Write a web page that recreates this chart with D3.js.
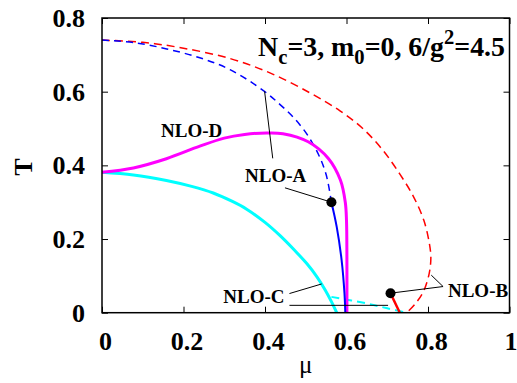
<!DOCTYPE html>
<html>
<head>
<meta charset="utf-8">
<script src="https://cdn.jsdelivr.net/npm/d3@7"></script>
<style>
  body { margin: 0; background: #fff; }
  svg { display: block; }
</style>
</head>
<body>
<div id="chart"></div>
<script>
// points as [mu, T]
var redDashed = [[0, 0.74], [0.1, 0.734], [0.2, 0.718], [0.314, 0.69], [0.412, 0.651], [0.51, 0.597],
                 [0.584, 0.548], [0.64, 0.5], [0.69, 0.44], [0.731, 0.376], [0.764, 0.316], [0.79, 0.25],
                 [0.803, 0.19], [0.807, 0.15], [0.803, 0.107], [0.789, 0.058], [0.768, 0.023], [0.748, 0]];
var redSolid = [[0.708, 0.053], [0.72, 0.025], [0.731, 0]];
var blueDashed = [[0, 0.74], [0.08, 0.733], [0.159, 0.716], [0.24, 0.692], [0.314, 0.66], [0.396, 0.603],
                  [0.437, 0.565], [0.47, 0.53], [0.502, 0.486], [0.531, 0.43], [0.55, 0.375], [0.563, 0.30]];
var blueSolid = [[0.563, 0.30], [0.576, 0.233], [0.588, 0.143], [0.595, 0.053], [0.597, 0]];
var magentaSolid = [[0, 0.381], [0.077, 0.393], [0.158, 0.418], [0.24, 0.452], [0.3, 0.474], [0.35, 0.484],
                    [0.404, 0.488], [0.444, 0.486], [0.506, 0.464], [0.556, 0.418], [0.585, 0.36],
                    [0.597, 0.30], [0.6, 0.25], [0.601, 0.15], [0.601, 0]];
var cyanSolid = [[0, 0.381], [0.077, 0.374], [0.158, 0.359], [0.22, 0.343], [0.273, 0.325], [0.32, 0.302],
                 [0.355, 0.281], [0.4, 0.245], [0.437, 0.209], [0.472, 0.17], [0.502, 0.134],
                 [0.527, 0.098], [0.548, 0.061], [0.563, 0.03], [0.576, 0]];
var cyanDashed = [[0.563, 0.043], [0.65, 0.025], [0.70, 0.012], [0.748, 0]];
var endPoints = [[0.563, 0.30], [0.708, 0.053]];

var xTicks = [0, 0.2, 0.4, 0.6, 0.8, 1];
var yTicks = [0, 0.2, 0.4, 0.6, 0.8];

// labels and their leader lines, also in data units
var labels = [
  { text: "NLO-D", mu: 0.145, t: 0.478, anchor: "start" },
  { text: "NLO-A", mu: 0.351, t: 0.355, anchor: "start" },
  { text: "NLO-C", mu: 0.448, t: 0.025, anchor: "end" },
  { text: "NLO-B", mu: 0.849, t: 0.043, anchor: "start" }
];
var leaders = [
  [[0.419, 0.419], [0.399, 0.601]],
  [[0.449, 0.339], [0.563, 0.30]],
  [[0.46, 0.052], [0.539, 0.078]],
  [[0.46, 0.02], [0.702, 0.02]],
  [[0.837, 0.071], [0.808, 0.102]],
  [[0.837, 0.071], [0.708, 0.053]]
];

var w = 517, h = 383;
var mLeft = 102, mRight = 509.5, mTop = 18, mBottom = 312.7;
var serif = "'Liberation Serif', 'Times New Roman', serif";

var svg = d3.select("#chart").append("svg")
  .attr("width", w)
  .attr("height", h);

var x = d3.scaleLinear().domain([0, 1]).range([mLeft, mRight]);
var y = d3.scaleLinear().domain([0, 0.8]).range([mBottom, mTop]);

var line = d3.line()
  .x(function(d) { return x(d[0]); })
  .y(function(d) { return y(d[1]); })
  .curve(d3.curveCatmullRom.alpha(0.5));

function curve(data, color, width, dash) {
  svg.append("path")
    .datum(data)
    .attr("d", line)
    .attr("fill", "none")
    .attr("stroke", color)
    .attr("stroke-width", width)
    .attr("stroke-dasharray", dash || null);
}

// axes, ticks point inward
var xAxis = d3.axisBottom(x).tickValues(xTicks).tickSize(-6).tickPadding(19)
  .tickFormat(function(d) { return d === 0 || d === 1 ? d : d.toFixed(1); });
var xTop = d3.axisTop(x).tickValues(xTicks).tickSize(-6).tickFormat("");
var yAxis = d3.axisLeft(y).tickValues(yTicks).tickSize(-6).tickPadding(17)
  .tickFormat(function(d) { return d === 0 ? "0" : d.toFixed(1); });
var yRight = d3.axisRight(y).tickValues(yTicks).tickSize(-6).tickFormat("");

function styleAxis(g) {
  g.select(".domain").remove();
  g.selectAll("line").attr("stroke", "#000").attr("stroke-width", 1);
  g.selectAll("text").attr("fill", "#000")
    .style("font-family", serif).style("font-size", "26px").style("font-weight", "bold");
}

svg.append("g").attr("transform", "translate(0," + mBottom + ")").call(xAxis).call(styleAxis)
  .selectAll("text").attr("dx", function(d) { return d === 1 ? 1 : 3; });
svg.append("g").attr("transform", "translate(0," + mTop + ")").call(xTop).call(styleAxis);
svg.append("g").attr("transform", "translate(" + mLeft + ",0)").call(yAxis).call(styleAxis);
svg.append("g").attr("transform", "translate(" + mRight + ",0)").call(yRight).call(styleAxis);

// curves
curve(redDashed, "#ff0000", 1.5, "8,5");
curve(blueDashed, "#0000ff", 1.5, "7,5");
curve(cyanSolid, "#00ffff", 3);
curve(cyanDashed, "#00ffff", 2, "8,5");
curve(magentaSolid, "#ff00ff", 3);
curve(blueSolid, "#0000ff", 2);
curve(redSolid, "#ff0000", 2.5);

// leader lines
svg.selectAll(".leader")
  .data(leaders)
  .enter()
  .append("line")
  .attr("class", "leader")
  .attr("x1", function(d) { return x(d[0][0]); })
  .attr("y1", function(d) { return y(d[0][1]); })
  .attr("x2", function(d) { return x(d[1][0]); })
  .attr("y2", function(d) { return y(d[1][1]); })
  .attr("stroke", "#000")
  .attr("stroke-width", 1);

svg.selectAll(".pt")
  .data(endPoints)
  .enter()
  .append("circle")
  .attr("class", "pt")
  .attr("cx", function(d) { return x(d[0]); })
  .attr("cy", function(d) { return y(d[1]); })
  .attr("r", 5)
  .attr("fill", "#000");

svg.selectAll(".lbl")
  .data(labels)
  .enter()
  .append("text")
  .attr("class", "lbl")
  .attr("x", function(d) { return x(d.mu); })
  .attr("y", function(d) { return y(d.t); })
  .attr("text-anchor", function(d) { return d.anchor; })
  .style("font-family", serif)
  .style("font-size", "19px")
  .style("font-weight", "bold")
  .text(function(d) { return d.text; });

// frame
svg.append("rect")
  .attr("x", mLeft)
  .attr("y", mTop)
  .attr("width", mRight - mLeft)
  .attr("height", mBottom - mTop)
  .attr("fill", "none")
  .attr("stroke", "#000")
  .attr("stroke-width", 1.5);

// title with sub/superscripts, sized so it runs from x=258 to x=505 like the original
var titleSize = 27, subSize = 20;
var title = svg.append("text")
  .attr("x", 505)
  .attr("y", 56)
  .attr("text-anchor", "end")
  .style("font-family", serif)
  .style("font-weight", "bold");
var parts = [
  { t: "N", sub: 0 }, { t: "c", sub: 1 }, { t: "=3, m", sub: 0 }, { t: "0", sub: 1 },
  { t: "=0, 6/g", sub: 0 }, { t: "2", sub: -1 }, { t: "=4.5", sub: 0 }
];
function drawTitle(k) {
  title.selectAll("tspan").remove();
  var shift = 0;
  parts.forEach(function(p) {
    var target = p.sub === 1 ? 8 * k : (p.sub === -1 ? -12 * k : 0);
    title.append("tspan")
      .style("font-size", (p.sub ? subSize : titleSize) * k + "px")
      .attr("dy", target - shift)
      .text(p.t);
    shift = target;
  });
}
drawTitle(1);
var tw = title.node().getBBox().width;
if (tw > 0) drawTitle(Math.min(1.15, Math.max(0.85, 247 / tw)));

// axis titles
svg.append("text")
  .attr("x", (mLeft + mRight) / 2)
  .attr("y", 373)
  .attr("text-anchor", "middle")
  .style("font-family", serif)
  .style("font-size", "25px")
  .text("\u03bc");

svg.append("text")
  .attr("transform", "translate(32,167) rotate(-90)")
  .attr("text-anchor", "middle")
  .style("font-family", serif)
  .style("font-size", "26px")
  .style("font-weight", "bold")
  .text("T");
</script>
</body>
</html>
